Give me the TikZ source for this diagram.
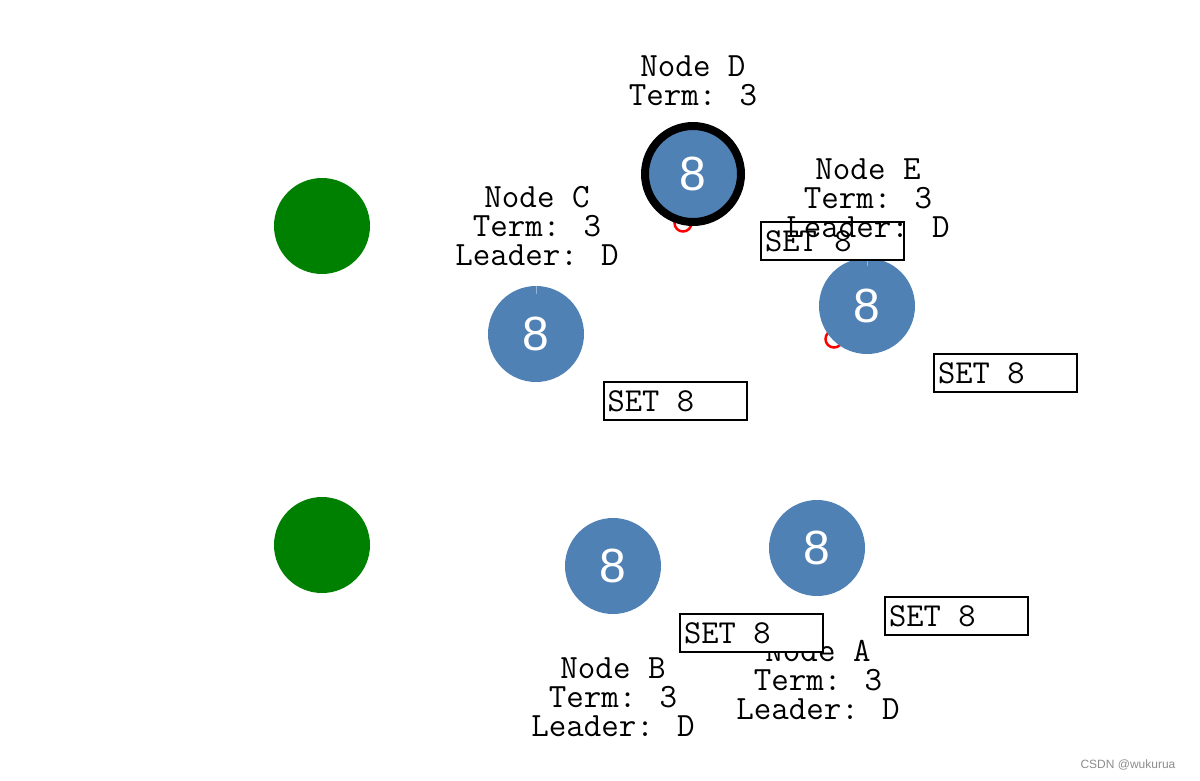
\documentclass[tikz,border=0pt]{standalone}
\usepackage{fontspec}
\setmainfont{Liberation Sans}
\usetikzlibrary{positioning}

\definecolor{nodeblue}{RGB}{79,129,181}
\definecolor{peergreen}{RGB}{0,128,0}

\tikzset{
  server/.style={circle,fill=nodeblue,minimum size=96pt,inner sep=0pt,text=white,font=\fontsize{48}{48}\selectfont},
  leader/.style={server,draw=black,line width=8pt},
  peer/.style={circle,fill=peergreen,minimum size=96pt,inner sep=0pt},
  tag/.style={align=center,inner sep=0pt,font=\fontsize{34}{29}\selectfont\ttfamily},
  setbox/.style={draw=black,line width=2pt,fill=white,text width=135pt,align=left,inner sep=4pt,minimum height=38pt,font=\fontsize{33.5}{33.5}\selectfont\ttfamily},
  ring/.style={circle,draw=red,line width=2.5pt,minimum size=17pt,inner sep=0pt}
}
\newcommand{\setmsg}{SET\hspace{0.525em}8}

\begin{document}
\begin{tikzpicture}[x=1pt,y=-1pt]
\useasboundingbox (0,0) rectangle (1200,780);

% peers
\node[peer] (P1) at (322,226) {};
\node[peer] (P2) at (322,545) {};

% rings behind servers
\node[ring] (RD) at (683,223) {};
\node[ring] (RE) at (834,339) {};

% servers
\node[leader] (D) at (693,174) {8};
\node[server] (C) at (536,334) {8};
\node[server] (E) at (867,306) {8};
\node[server] (B) at (613,566) {8};
\node[server] (A) at (817,548) {8};
\draw[nodeblue!60!white,line width=0.8pt] (C.north) -- ++(0,8);
\draw[nodeblue!60!white,line width=0.8pt] (E.north) -- ++(0,8);

\node[setbox] (SE) at (832.5,241) {\setmsg};

% labels
\node[tag] (LD) at (693,81) {Node D\\Term: 3};
\node[tag] (LC) at (537,226) {Node C\\Term: 3\\Leader: D};
\node[tag] (LE) at (868,198) {Node E\\Term: 3\\Leader: D};
\node[tag] (LB) at (613,697.5) {Node B\\Term: 3\\Leader: D};
\node[tag] (LA) at (818,680) {Node A\\Term: 3\\Leader: D};

% messages
\node[setbox] (SC) at (675,401) {\setmsg};
\node[setbox] (SR) at (1005.5,373) {\setmsg};
\node[setbox] (SB) at (751.5,633) {\setmsg};
\node[setbox] (SA) at (956.5,616) {\setmsg};

\node[text=black!45,font=\fontsize{12}{12}\selectfont] (mark) at (1128,765) {CSDN @wukurua};
\end{tikzpicture}
\end{document}
